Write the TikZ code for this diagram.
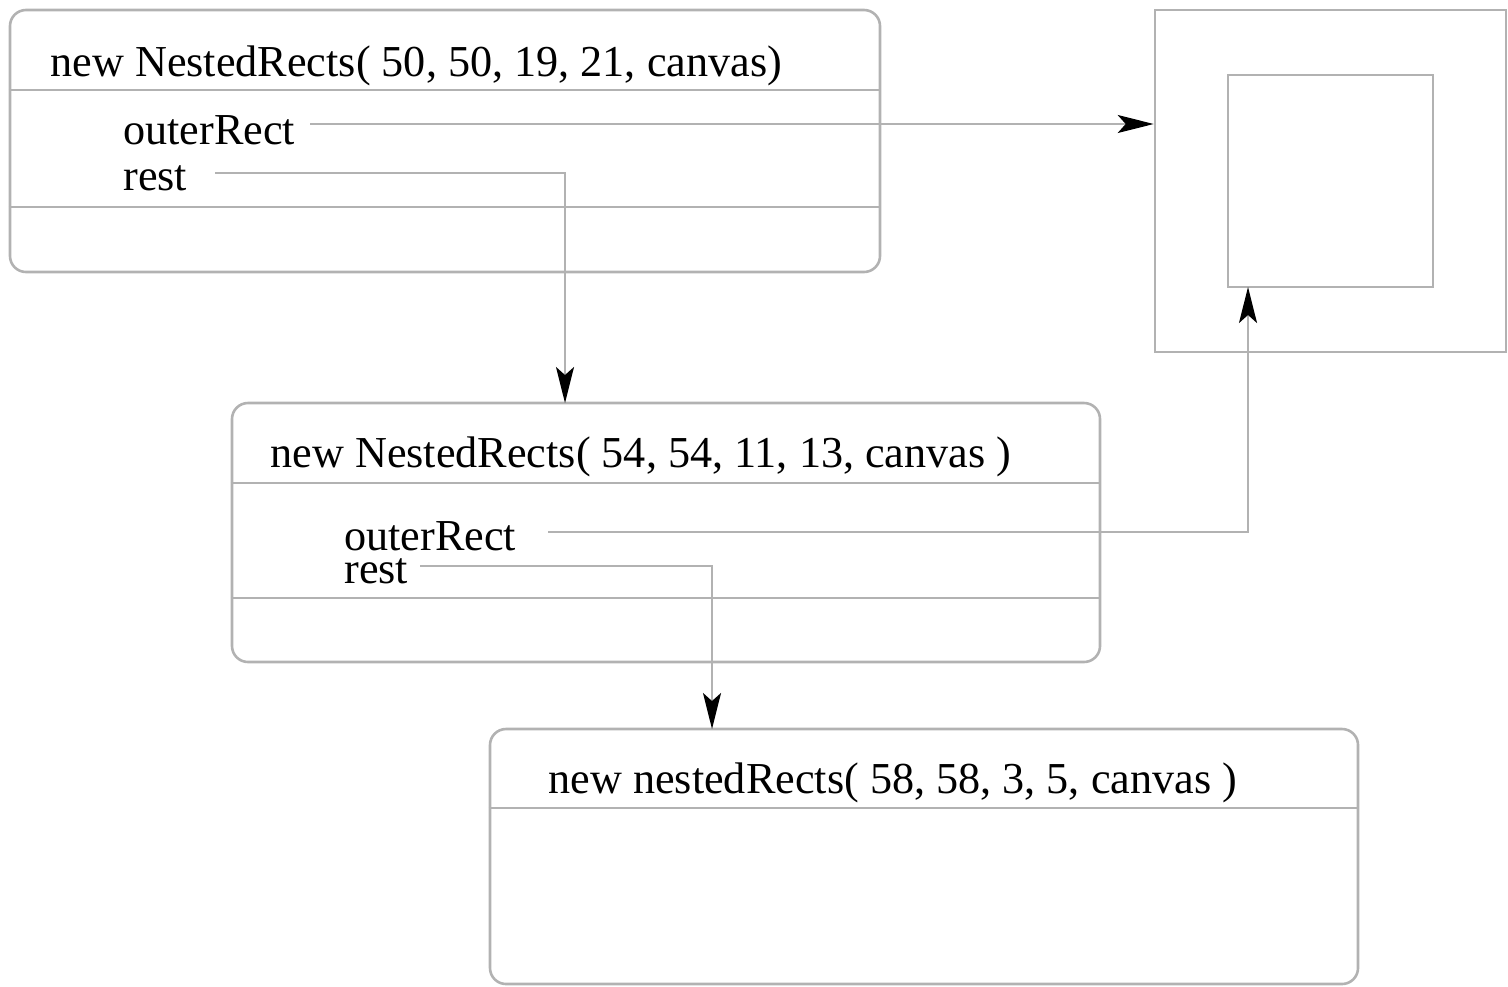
\documentclass[tikz,border=0pt]{standalone}
\usepackage{fontspec}
\setmainfont{Liberation Serif}
\usetikzlibrary{arrows.meta,calc}
\definecolor{linegray}{RGB}{178,178,178}
\begin{document}
\begin{tikzpicture}[x=0.5pt,y=-0.5pt,
  box/.style={draw=linegray,line width=1.3pt,rounded corners=8pt,inner sep=0pt},
  sqbox/.style={draw=linegray,line width=1.3pt,inner sep=0pt},
  divider/.style={draw=linegray,line width=1.3pt},
  lbl/.style={anchor=west,inner sep=0pt,font=\fontsize{22.1}{24}\selectfont},
  conn/.style={draw=linegray,line width=1.1pt,-{Stealth[black,length=18pt,width=9pt,inset=4pt]}}]
\useasboundingbox (0,0) rectangle (1508,986);
% boxes
\node[box,minimum width=435pt,minimum height=131pt] (b1) at (445,141) {};
\node[box,minimum width=434pt,minimum height=129.5pt] (b2) at (666,532.5) {};
\node[box,minimum width=434pt,minimum height=127.5pt] (b3) at (924,856.5) {};
\node[sqbox,minimum width=175.5pt,minimum height=171pt] (sq) at (1330.5,181) {};
\node[sqbox,minimum width=102.5pt,minimum height=106pt] (in) at (1330.5,181) {};
% dividers
\draw[divider] (b1.west |- 0,90) -- (b1.east |- 0,90);
\draw[divider] (b1.west |- 0,207) -- (b1.east |- 0,207);
\draw[divider] (b2.west |- 0,483) -- (b2.east |- 0,483);
\draw[divider] (b2.west |- 0,598) -- (b2.east |- 0,598);
\draw[divider] (b3.west |- 0,808) -- (b3.east |- 0,808);
% texts
\node[lbl] (t1) at (50,66) {new NestedRects( 50, 50, 19, 21, canvas)};
\node[lbl] (o1) at (123,130) {outerRect};
\node[lbl] (r1) at (123,178) {rest};
\node[lbl] (t2) at (270,457) {new NestedRects( 54, 54, 11, 13, canvas )};
\node[lbl] (o2) at (344,536) {outerRect};
\node[lbl] (r2) at (344,571) {rest};
\node[lbl] (t3) at (548,783) {new nestedRects( 58, 58, 3, 5, canvas )};
% connector ends
\coordinate (o1s) at (310,124);
\coordinate (r1s) at (215,173);
\coordinate (o2s) at (548,532);
\coordinate (r2s) at (420,566);
\coordinate (e1) at (565,403);
\coordinate (e2) at (1248,287);
\coordinate (e3) at (712,729);
% connectors
\draw[conn] (o1s) -- (o1s -| sq.west);
\draw[conn] (r1s) -| (e1);
\draw[conn] (o2s) -| (e2);
\draw[conn] (r2s) -| (e3);
\end{tikzpicture}
\end{document}
